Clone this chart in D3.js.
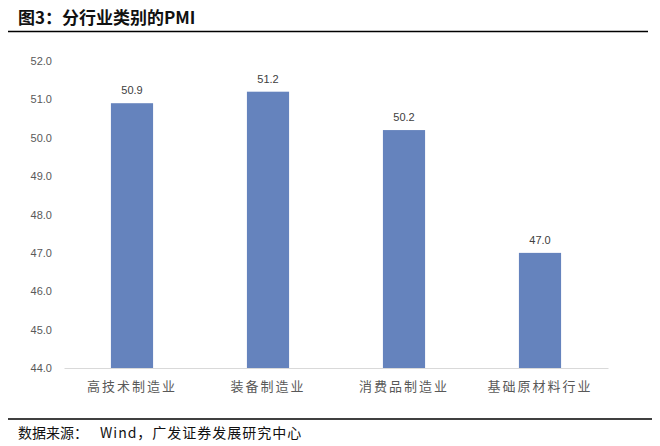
<!DOCTYPE html>
<html>
<head>
<meta charset="utf-8">
<script src="https://cdn.jsdelivr.net/npm/d3@7"></script>
<style>
  body { margin: 0; background: #fff; }
  svg { display: block; }
</style>
</head>
<body>
<div id="chart"></div>
<script>
// Data
const categories = ["高技术制造业", "装备制造业", "消费品制造业", "基础原材料行业"];
const pmiValues = [50.9, 51.2, 50.2, 47.0];
const yTicks = [44, 45, 46, 47, 48, 49, 50, 51, 52];

const width = 660;
const height = 446;
const margin = { top: 61, right: 52, bottom: 78, left: 64 };

const svg = d3.select("#chart")
  .append("svg")
    .attr("width", width)
    .attr("height", height);

// Title and rules
svg.append("text")
  .attr("x", 18)
  .attr("y", 24)
  .attr("font-family", "Noto Sans CJK SC")
  .attr("font-size", 17)
  .attr("font-weight", "bold")
  .attr("fill", "#111")
  .text("图3：分行业类别的PMI");

svg.append("line")
  .attr("x1", 8).attr("x2", 648)
  .attr("y1", 31.5).attr("y2", 31.5)
  .attr("stroke", "#000")
  .attr("stroke-width", 1.6);

svg.append("line")
  .attr("x1", 8).attr("x2", 652)
  .attr("y1", 419).attr("y2", 419)
  .attr("stroke", "#000")
  .attr("stroke-width", 1.6);

svg.append("text")
  .attr("x", 18)
  .attr("y", 438)
  .attr("font-family", "Noto Sans CJK SC")
  .attr("font-size", 14)
  .attr("fill", "#111")
  .text("数据来源：");

svg.append("text")
  .attr("x", 100)
  .attr("y", 438)
  .attr("font-family", "Noto Sans CJK SC")
  .attr("font-size", 14)
  .attr("letter-spacing", 1)
  .attr("fill", "#111")
  .text("Wind，广发证券发展研究中心");

// Scales
const x = d3.scaleBand()
  .domain(categories)
  .range([margin.left, width - margin.right])
  .paddingInner(0.69)
  .paddingOuter(0.345);

const y = d3.scaleLinear()
  .domain([44, 52])
  .range([height - margin.bottom, margin.top]);

// Y axis labels (no axis line)
const yAxis = svg.append("g")
  .attr("transform", `translate(${margin.left},0)`)
  .call(d3.axisLeft(y).tickValues(yTicks).tickFormat(d3.format(".1f")).tickSize(0).tickPadding(12));
yAxis.select(".domain").remove();
yAxis.selectAll("text")
  .attr("font-family", "Liberation Sans, Arial, sans-serif")
  .attr("font-size", 11)
  .attr("fill", "#595959");

// Bars
svg.append("g")
  .selectAll("rect")
  .data(pmiValues)
  .enter().append("rect")
    .attr("x", (d, i) => x(categories[i]))
    .attr("y", d => y(d))
    .attr("width", x.bandwidth())
    .attr("height", d => y(44) - y(d))
    .attr("fill", "#6583bd");

// Value labels
svg.append("g")
  .selectAll("text")
  .data(pmiValues)
  .enter().append("text")
    .attr("x", (d, i) => x(categories[i]) + x.bandwidth() / 2)
    .attr("y", d => y(d) - 9)
    .attr("text-anchor", "middle")
    .attr("font-family", "Liberation Sans, Arial, sans-serif")
    .attr("font-size", 11)
    .attr("fill", "#404040")
    .text(d => d3.format(".1f")(d));

// X axis
const xAxis = svg.append("g")
  .attr("transform", `translate(0,${y(44)})`)
  .call(d3.axisBottom(x).tickSize(0).tickPadding(14));
xAxis.select(".domain")
  .attr("stroke", "#d9d9d9")
  .attr("stroke-width", 1);
xAxis.selectAll("text")
  .attr("font-family", "Noto Sans CJK SC")
  .attr("font-size", 13)
  .attr("letter-spacing", 2)
  .attr("fill", "#595959");
</script>
</body>
</html>
